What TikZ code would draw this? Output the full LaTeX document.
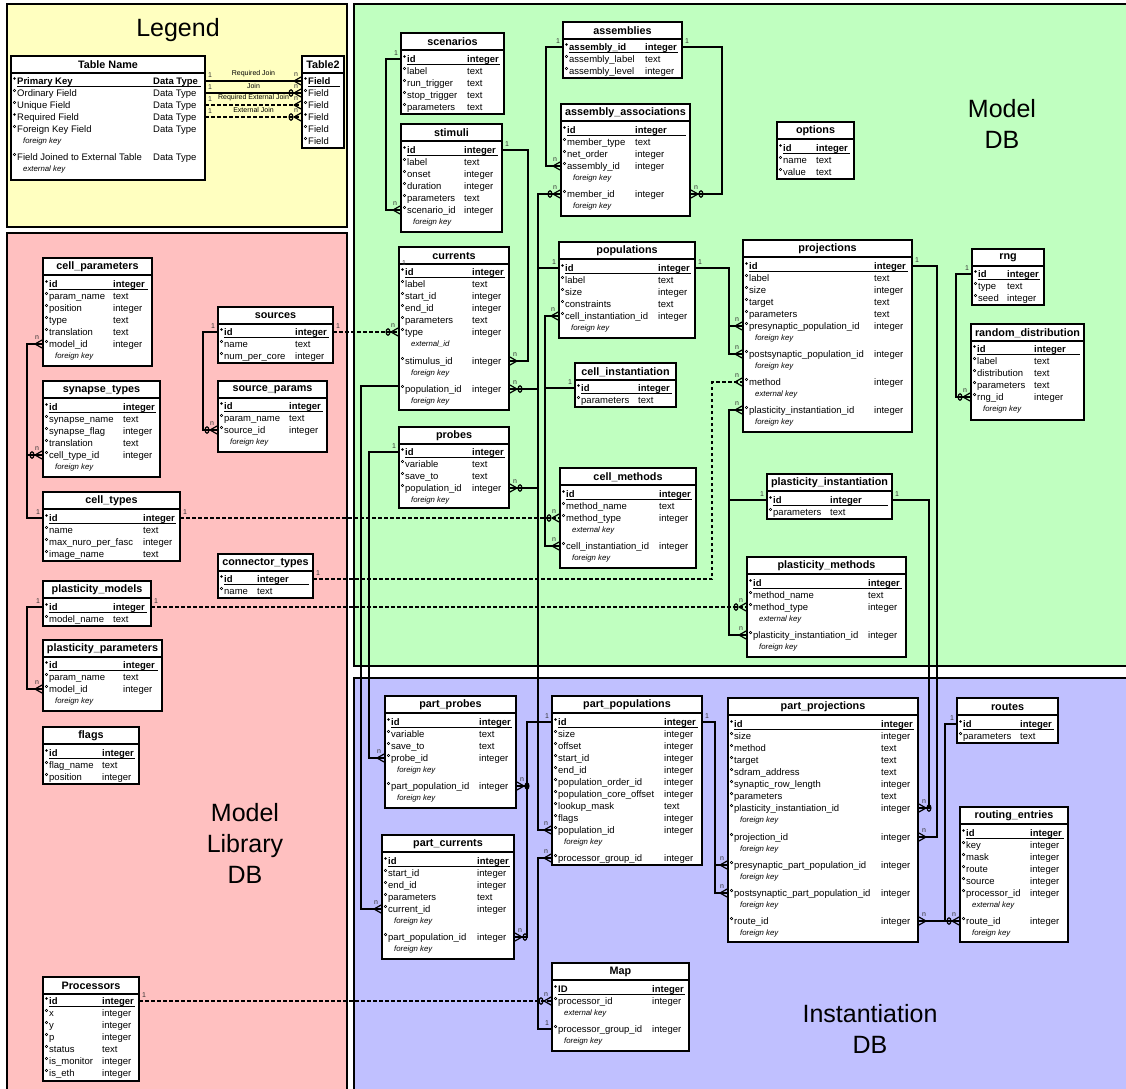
\documentclass[tikz,border=0pt]{standalone}
\usepackage{fontspec}
\setmainfont{Liberation Sans}
\usetikzlibrary{calc}
\definecolor{legY}{RGB}{255,255,192}
\definecolor{libP}{RGB}{255,192,192}
\definecolor{mdbG}{RGB}{192,255,192}
\definecolor{insB}{RGB}{192,192,255}
\tikzset{
 tab/.style={draw, fill=white, line width=1.5pt, inner sep=0pt},
 sepl/.style={line width=1.5pt},
 ttl/.style={inner sep=0pt, font=\fontsize{10.8}{12}\selectfont\bfseries},
 fn/.style={anchor=base west, inner sep=0pt, font=\fontsize{9.5}{11}\selectfont},
 fb/.style={anchor=base west, inner sep=0pt, font=\fontsize{9.5}{11}\selectfont\bfseries},
 fi/.style={anchor=base west, inner sep=0pt, font=\fontsize{7.8}{9}\selectfont\itshape},
 ul/.style={line width=0.8pt},
 rel/.style={line width=1.5pt},
 ext/.style={line width=1.5pt, dash pattern=on 3.5pt off 2.5pt},
 crowst/.style={line width=1.2pt},
 card/.style={inner sep=0pt, font=\fontsize{7}{8}\selectfont, text=black!80},
 panel/.style={draw, line width=1.5pt},
 ptitle/.style={align=center, inner sep=0pt, font=\fontsize{25}{31}\selectfont},
 jlab/.style={inner sep=0pt, font=\fontsize{7}{8}\selectfont},
}
% table: name, x, y, w, h, type column x, title
\newcommand\dbT[7]{%
  \def\dbn{#1}\def\dbx{#2}\def\dbw{#4}\def\dbc{#6}%
  \node[tab, minimum width=#4pt, minimum height=#5pt] (#1) at (#2+#4/2,#3+#5/2) {};%
  \draw[sepl] (#2,#3+17) -- (#2+#4,#3+17);%
  \node[ttl] (#1-title) at (#2+#4/2,#3+9) {#7};%
}
\newcommand\dbPK[4]{%
  \fill (\dbx+3.5,#2-2.5) circle (1.3pt);%
  \node[fb] (\dbn-#1) at (\dbx+6,#2+3.4) {#3};%
  \node[fb] (\dbn-#1t) at (\dbc,#2+3.4) {#4};%
  \draw[ul] (\dbx+6,#2+5.6) -- (\dbx+\dbw-4,#2+5.6);%
  \coordinate (\dbn-#1-l) at (\dbx,#2);%
  \coordinate (\dbn-#1-r) at (\dbx+\dbw,#2);%
}
\newcommand\dbF[4]{%
  \draw[line width=0.6pt] (\dbx+3.5,#2-2.5) circle (1.3pt);%
  \node[fn] (\dbn-#1) at (\dbx+6,#2+3.4) {#3};%
  \node[fn] (\dbn-#1t) at (\dbc,#2+3.4) {#4};%
  \coordinate (\dbn-#1-l) at (\dbx,#2);%
  \coordinate (\dbn-#1-r) at (\dbx+\dbw,#2);%
}
\newcommand\dbR[4]{%
  \fill (\dbx+3.5,#2-2.5) circle (1.3pt);%
  \node[fn] (\dbn-#1) at (\dbx+6,#2+3.4) {#3};%
  \node[fn] (\dbn-#1t) at (\dbc,#2+3.4) {#4};%
  \coordinate (\dbn-#1-l) at (\dbx,#2);%
  \coordinate (\dbn-#1-r) at (\dbx+\dbw,#2);%
}
\newcommand\dbS[3]{\node[fi] (\dbn-#1) at (\dbx+12,#2+3) {#3};}
% connector ends
\newcommand\crL[1]{\draw[crowst] ($(#1)+(-8,0)$) -- ($(#1)+(0,-4.5)$) ($(#1)+(-8,0)$) -- ($(#1)+(0,4.5)$);}
\newcommand\crR[1]{\draw[crowst] ($(#1)+(8,0)$) -- ($(#1)+(0,-4.5)$) ($(#1)+(8,0)$) -- ($(#1)+(0,4.5)$);}
\newcommand\oL[1]{\draw[line width=1.2pt] ($(#1)+(-11,0)$) ellipse (1.9pt and 3.2pt);}
\newcommand\oR[1]{\draw[line width=1.2pt] ($(#1)+(11,0)$) ellipse (1.9pt and 3.2pt);}
\newcommand\nL[1]{\node[card] (#1-n) at ($(#1)+(-6,-6.5)$) {n};}
\newcommand\nR[1]{\node[card] (#1-n) at ($(#1)+(6,-6.5)$) {n};}
\newcommand\iL[1]{\node[card] (#1-1) at ($(#1)+(-5,-6)$) {1};}
\newcommand\iR[1]{\node[card] (#1-1) at ($(#1)+(5,-6)$) {1};}
\begin{document}
\begin{tikzpicture}[x=1pt,y=-1pt]
\useasboundingbox (0,0) rectangle (1126,1088);
% panels
\draw[panel, fill=legY] (7,4) rectangle (347,227);
\draw[panel, fill=libP] (7,233) rectangle (347,1096);
\draw[panel, fill=mdbG] (354,4) rectangle (1134,666);
\draw[panel, fill=insB] (354,678) rectangle (1134,1096);
\node[ptitle] (legT) at (178,30) {Legend};
\node[ptitle] (mdbT) at (1002,124) {Model\\DB};
\node[ptitle] (libT) at (245,843) {Model\\Library\\DB};
\node[ptitle] (insT) at (870,1029) {Instantiation\\DB};
% bus x positions
\coordinate (bL) at (27,0);
\coordinate (bSrc) at (203,0);
\coordinate (bCnt) at (712,0);
\coordinate (bSc) at (386,0);
\coordinate (bSti) at (528,0);
\coordinate (bPop) at (538,0);
\coordinate (bCI) at (545,0);
\coordinate (bAL) at (546,0);
\coordinate (bAR) at (722,0);
\coordinate (bPR) at (729,0);
\coordinate (bRng) at (956,0);
\coordinate (bPrj) at (937,0);
\coordinate (bPI) at (929,0);
\coordinate (bPrb) at (369,0);
\coordinate (bCur) at (361,0);
\coordinate (bPP) at (527,0);
\coordinate (bPPR) at (715,0);
\coordinate (bRt) at (945,0);
% ---------------- Legend
\dbT{leg}{11}{56}{194}{124}{153}{Table Name}
\dbPK{pk}{81}{Primary Key}{Data Type}
\dbF{of}{93}{Ordinary Field}{Data Type}
\dbF{uf}{105}{Unique Field}{Data Type}
\dbR{rf}{117}{Required Field}{Data Type}
\dbF{fk}{129}{Foreign Key Field}{Data Type}
\dbS{s1}{140}{foreign key}
\dbF{ej}{157}{Field Joined to External Table}{Data Type}
\dbS{s2}{168}{external key}
\dbT{t2}{302}{56}{42}{92}{344}{Table2}
\dbPK{f1}{81}{Field}{}
\dbF{f2}{93}{Field}{}
\dbF{f3}{105}{Field}{}
\dbR{f4}{117}{Field}{}
\dbF{f5}{129}{Field}{}
\dbF{f6}{141}{Field}{}
% ---------------- Model Library DB
\dbT{cp}{43}{258}{109}{108}{113}{cell\_parameters}
\dbPK{id}{284}{id}{integer}
\dbF{pn}{296}{param\_name}{text}
\dbF{pos}{308}{position}{integer}
\dbF{ty}{320}{type}{text}
\dbF{tr}{332}{translation}{text}
\dbF{mod}{344}{model\_id}{integer}
\dbS{s1}{355}{foreign key}
\dbT{st}{43}{381}{117}{96}{123}{synapse\_types}
\dbPK{id}{407}{id}{integer}
\dbF{sn}{419}{synapse\_name}{text}
\dbF{sf}{431}{synapse\_flag}{integer}
\dbF{tr}{443}{translation}{text}
\dbF{ct}{455}{cell\_type\_id}{integer}
\dbS{s1}{466}{foreign key}
\dbT{ct}{43}{492}{137}{69}{143}{cell\_types}
\dbPK{id}{518}{id}{integer}
\dbF{nm}{530}{name}{text}
\dbF{mx}{542}{max\_nuro\_per\_fasc}{integer}
\dbF{im}{554}{image\_name}{text}
\dbT{pm}{43}{581}{108}{45}{113}{plasticity\_models}
\dbPK{id}{607}{id}{integer}
\dbF{mn}{619}{model\_name}{text}
\dbT{pp}{43}{640}{119}{71}{123}{plasticity\_parameters}
\dbPK{id}{665}{id}{integer}
\dbF{pn}{677}{param\_name}{text}
\dbF{mod}{689}{model\_id}{integer}
\dbS{s1}{700}{foreign key}
\dbT{fl}{43}{727}{96}{57}{102}{flags}
\dbPK{id}{753}{id}{integer}
\dbF{fn}{765}{flag\_name}{text}
\dbF{po}{777}{position}{integer}
\dbT{src}{218}{307}{115}{56}{295}{sources}
\dbPK{id}{332}{id}{integer}
\dbF{nm}{344}{name}{text}
\dbF{np}{356}{num\_per\_core}{integer}
\dbT{sp}{218}{381}{109}{71}{289}{source\_params}
\dbPK{id}{406}{id}{integer}
\dbF{pn}{418}{param\_name}{text}
\dbF{sid}{430}{source\_id}{integer}
\dbS{s1}{441}{foreign key}
\dbT{cnt}{218}{554}{95}{44}{257}{connector\_types}
\dbPK{id}{579}{id}{integer}
\dbF{nm}{591}{name}{text}
\dbT{proc}{43}{977}{96}{104}{102}{Processors}
\dbPK{id}{1001}{id}{integer}
\dbF{x}{1013}{x}{integer}
\dbF{y}{1025}{y}{integer}
\dbF{p}{1037}{p}{integer}
\dbF{stt}{1049}{status}{text}
\dbF{mon}{1061}{is\_monitor}{integer}
\dbF{eth}{1073}{is\_eth}{integer}
% ---------------- Model DB
\dbT{sc}{401}{33}{103}{81}{467}{scenarios}
\dbPK{id}{59}{id}{integer}
\dbF{lb}{71}{label}{text}
\dbF{rt}{83}{run\_trigger}{text}
\dbF{stp}{95}{stop\_trigger}{text}
\dbF{par}{107}{parameters}{text}
\dbT{sti}{401}{124}{101}{108}{464}{stimuli}
\dbPK{id}{150}{id}{integer}
\dbF{lb}{162}{label}{text}
\dbF{on}{174}{onset}{integer}
\dbF{du}{186}{duration}{integer}
\dbF{par}{198}{parameters}{text}
\dbF{scen}{210}{scenario\_id}{integer}
\dbS{s1}{221}{foreign key}
\dbT{cur}{399}{247}{110}{163}{472}{currents}
\dbPK{id}{272}{id}{integer}
\dbF{lb}{284}{label}{text}
\dbF{sid}{296}{start\_id}{integer}
\dbF{eid}{308}{end\_id}{integer}
\dbF{par}{320}{parameters}{text}
\dbF{type}{332}{type}{integer}
\dbS{s1}{343}{external\_id}
\dbF{stim}{361}{stimulus\_id}{integer}
\dbS{s2}{372}{foreign key}
\dbF{pop}{389}{population\_id}{integer}
\dbS{s3}{400}{foreign key}
\dbT{prb}{399}{427}{110}{81}{472}{probes}
\dbPK{id}{452}{id}{integer}
\dbF{var}{464}{variable}{text}
\dbF{sav}{476}{save\_to}{text}
\dbF{pop}{488}{population\_id}{integer}
\dbS{s1}{499}{foreign key}
\dbT{asm}{563}{22}{119}{56}{645}{assemblies}
\dbPK{id}{47}{assembly\_id}{integer}
\dbF{lb}{59}{assembly\_label}{text}
\dbF{lv}{71}{assembly\_level}{integer}
\dbT{asa}{561}{104}{129}{112}{635}{assembly\_associations}
\dbPK{id}{130}{id}{integer}
\dbF{mt}{142}{member\_type}{text}
\dbF{no}{154}{net\_order}{integer}
\dbF{aid}{166}{assembly\_id}{integer}
\dbS{s1}{177}{foreign key}
\dbF{mem}{194}{member\_id}{integer}
\dbS{s2}{205}{foreign key}
\dbT{opt}{777}{122}{77}{57}{816}{options}
\dbPK{id}{148}{id}{integer}
\dbF{nm}{160}{name}{text}
\dbF{val}{172}{value}{text}
\dbT{pop}{559}{242}{136}{96}{658}{populations}
\dbPK{id}{268}{id}{integer}
\dbF{lb}{280}{label}{text}
\dbF{sz}{292}{size}{integer}
\dbF{con}{304}{constraints}{text}
\dbF{ci}{316}{cell\_instantiation\_id}{integer}
\dbS{s1}{327}{foreign key}
\dbT{ci}{575}{363}{101}{44}{638}{cell\_instantiation}
\dbPK{id}{388}{id}{integer}
\dbF{par}{400}{parameters}{text}
\dbT{prj}{743}{240}{169}{192}{874}{projections}
\dbPK{id}{266}{id}{integer}
\dbF{lb}{278}{label}{text}
\dbF{sz}{290}{size}{integer}
\dbF{tg}{302}{target}{text}
\dbF{par}{314}{parameters}{text}
\dbF{pre}{326}{presynaptic\_population\_id}{integer}
\dbS{s1}{337}{foreign key}
\dbF{post}{354}{postsynaptic\_population\_id}{integer}
\dbS{s2}{365}{foreign key}
\dbF{meth}{382}{method}{integer}
\dbS{s3}{393}{external key}
\dbF{pi}{410}{plasticity\_instantiation\_id}{integer}
\dbS{s4}{421}{foreign key}
\dbT{rng}{972}{249}{72}{56}{1007}{rng}
\dbPK{id}{274}{id}{integer}
\dbF{ty}{286}{type}{text}
\dbF{sd}{298}{seed}{integer}
\dbT{rd}{971}{324}{113}{96}{1034}{random\_distribution}
\dbPK{id}{349}{id}{integer}
\dbF{lb}{361}{label}{text}
\dbF{dis}{373}{distribution}{text}
\dbF{par}{385}{parameters}{text}
\dbF{rng}{397}{rng\_id}{integer}
\dbS{s1}{408}{foreign key}
\dbT{cm}{560}{468}{136}{100}{659}{cell\_methods}
\dbPK{id}{494}{id}{integer}
\dbF{mn}{506}{method\_name}{text}
\dbF{mt}{518}{method\_type}{integer}
\dbS{s1}{529}{external key}
\dbF{ci}{546}{cell\_instantiation\_id}{integer}
\dbS{s2}{557}{foreign key}
\dbT{pi}{767}{474}{125}{45}{830}{plasticity\_instantiation}
\dbPK{id}{500}{id}{integer}
\dbF{par}{512}{parameters}{text}
\dbT{plm}{747}{557}{159}{100}{868}{plasticity\_methods}
\dbPK{id}{583}{id}{integer}
\dbF{mn}{595}{method\_name}{text}
\dbF{mt}{607}{method\_type}{integer}
\dbS{s1}{618}{external key}
\dbF{pi}{635}{plasticity\_instantiation\_id}{integer}
\dbS{s2}{646}{foreign key}
% ---------------- Instantiation DB
\dbT{pprb}{385}{696}{131}{112}{479}{part\_probes}
\dbPK{id}{722}{id}{integer}
\dbF{var}{734}{variable}{text}
\dbF{sav}{746}{save\_to}{text}
\dbF{prb}{758}{probe\_id}{integer}
\dbS{s1}{769}{foreign key}
\dbF{pp}{786}{part\_population\_id}{integer}
\dbS{s2}{797}{foreign key}
\dbT{pcur}{382}{835}{132}{124}{477}{part\_currents}
\dbPK{id}{861}{id}{integer}
\dbF{sid}{873}{start\_id}{integer}
\dbF{eid}{885}{end\_id}{integer}
\dbF{par}{897}{parameters}{text}
\dbF{cur}{909}{current\_id}{integer}
\dbS{s1}{920}{foreign key}
\dbF{pp}{937}{part\_population\_id}{integer}
\dbS{s2}{948}{foreign key}
\dbT{ppop}{552}{696}{150}{169}{664}{part\_populations}
\dbPK{id}{722}{id}{integer}
\dbF{sz}{734}{size}{integer}
\dbF{off}{746}{offset}{integer}
\dbF{sid}{758}{start\_id}{integer}
\dbF{eid}{770}{end\_id}{integer}
\dbF{po}{782}{population\_order\_id}{integer}
\dbF{pc}{794}{population\_core\_offset}{integer}
\dbF{lm}{806}{lookup\_mask}{text}
\dbF{fl}{818}{flags}{integer}
\dbF{pop}{830}{population\_id}{integer}
\dbS{s1}{841}{foreign key}
\dbF{pg}{858}{processor\_group\_id}{integer}
\dbT{ppj}{728}{698}{190}{244}{881}{part\_projections}
\dbPK{id}{724}{id}{integer}
\dbF{sz}{736}{size}{integer}
\dbF{meth}{748}{method}{text}
\dbF{tg}{760}{target}{text}
\dbF{sd}{772}{sdram\_address}{text}
\dbF{srl}{784}{synaptic\_row\_length}{integer}
\dbF{par}{796}{parameters}{text}
\dbF{pi}{808}{plasticity\_instantiation\_id}{integer}
\dbS{s1}{819}{foreign key}
\dbF{prj}{837}{projection\_id}{integer}
\dbS{s2}{848}{foreign key}
\dbF{pre}{865}{presynaptic\_part\_population\_id}{integer}
\dbS{s3}{876}{foreign key}
\dbF{post}{893}{postsynaptic\_part\_population\_id}{integer}
\dbS{s4}{904}{foreign key}
\dbF{rt}{921}{route\_id}{integer}
\dbS{s5}{932}{foreign key}
\dbT{rt}{957}{698}{101}{45}{1020}{routes}
\dbPK{id}{724}{id}{integer}
\dbF{par}{736}{parameters}{text}
\dbT{re}{960}{807}{108}{135}{1030}{routing\_entries}
\dbPK{id}{833}{id}{integer}
\dbF{key}{845}{key}{integer}
\dbF{msk}{857}{mask}{integer}
\dbF{rte}{869}{route}{integer}
\dbF{src}{881}{source}{integer}
\dbF{pid}{893}{processor\_id}{integer}
\dbS{s1}{904}{external key}
\dbF{rt}{921}{route\_id}{integer}
\dbS{s2}{932}{foreign key}
\dbT{map}{552}{963}{137}{88}{652}{Map}
\dbPK{id}{989}{ID}{integer}
\dbF{proc}{1001}{processor\_id}{integer}
\dbS{s1}{1012}{external key}
\dbF{pg}{1029}{processor\_group\_id}{integer}
\dbS{s2}{1040}{foreign key}
% ================= connectors
% legend
\draw[rel] (leg-pk-r) -- (t2-f1-l);
\draw[rel] (leg-of-r) -- (t2-f2-l);
\draw[ext] (leg-uf-r) -- (t2-f3-l);
\draw[ext] (leg-rf-r) -- (t2-f4-l);
\crL{t2-f1-l}\crL{t2-f2-l}\oL{t2-f2-l}\crL{t2-f3-l}\crL{t2-f4-l}\oL{t2-f4-l}
\iR{leg-pk-r}\iR{leg-of-r}\iR{leg-uf-r}\iR{leg-rf-r}
\nL{t2-f1-l}\nL{t2-f2-l}\nL{t2-f3-l}\nL{t2-f4-l}
\node[jlab] (j1) at ($(leg-pk-r)!0.5!(t2-f1-l)+(0,-7)$) {Required Join};
\node[jlab] (j2) at ($(leg-of-r)!0.5!(t2-f2-l)+(0,-7)$) {Join};
\node[jlab] (j3) at ($(leg-uf-r)!0.5!(t2-f3-l)+(0,-7)$) {Required External Join};
\node[jlab] (j4) at ($(leg-rf-r)!0.5!(t2-f4-l)+(0,-7)$) {External Join};
% model library
\draw[rel] (ct-id-l) -- (ct-id-l -| bL) -- (cp-mod-l -| bL) -- (cp-mod-l);
\draw[rel] (st-ct-l) -- (st-ct-l -| bL);
\crL{cp-mod-l}\nL{cp-mod-l}\crL{st-ct-l}\oL{st-ct-l}\nL{st-ct-l}\iL{ct-id-l}
\draw[rel] (pm-id-l) -- (pm-id-l -| bL) -- (pp-mod-l -| bL) -- (pp-mod-l);
\crL{pp-mod-l}\nL{pp-mod-l}\iL{pm-id-l}
\draw[rel] (src-id-l) -- (src-id-l -| bSrc) -- (sp-sid-l -| bSrc) -- (sp-sid-l);
\crL{sp-sid-l}\oL{sp-sid-l}\nL{sp-sid-l}\iL{src-id-l}
\draw[ext] (src-id-r) -- (cur-type-l);
\crL{cur-type-l}\oL{cur-type-l}\nL{cur-type-l}\iR{src-id-r}
\draw[ext] (ct-id-r) -- (cm-mt-l);
\crL{cm-mt-l}\oL{cm-mt-l}\nL{cm-mt-l}\iR{ct-id-r}
\draw[ext] (cnt-id-r) -- (cnt-id-r -| bCnt) -- (prj-meth-l -| bCnt) -- (prj-meth-l);
\crL{prj-meth-l}\nL{prj-meth-l}\iR{cnt-id-r}
\draw[ext] (pm-id-r) -- (plm-mt-l);
\crL{plm-mt-l}\oL{plm-mt-l}\nL{plm-mt-l}\iR{pm-id-r}
\draw[ext] (proc-id-r) -- (map-proc-l);
\crL{map-proc-l}\oL{map-proc-l}\nL{map-proc-l}\iR{proc-id-r}
% model db
\draw[rel] (sc-id-l) -- (sc-id-l -| bSc) -- (sti-scen-l -| bSc) -- (sti-scen-l);
\crL{sti-scen-l}\nL{sti-scen-l}\iL{sc-id-l}
\draw[rel] (sti-id-r) -- (sti-id-r -| bSti) -- (cur-stim-r -| bSti) -- (cur-stim-r);
\crR{cur-stim-r}\nR{cur-stim-r}\iR{sti-id-r}
\draw[rel] (asa-mem-l) -- (asa-mem-l -| bPop) -- (ppop-pop-l -| bPop) -- (ppop-pop-l);
\draw[rel] (pop-id-l) -- (pop-id-l -| bPop);
\draw[rel] (cur-pop-r) -- (cur-pop-r -| bPop);
\draw[rel] (prb-pop-r) -- (prb-pop-r -| bPop);
\crL{asa-mem-l}\oL{asa-mem-l}\nL{asa-mem-l}
\crR{cur-pop-r}\oR{cur-pop-r}\nR{cur-pop-r}
\crR{prb-pop-r}\oR{prb-pop-r}\nR{prb-pop-r}
\crL{ppop-pop-l}\nL{ppop-pop-l}\iL{pop-id-l}
\draw[rel] (pop-ci-l) -- (pop-ci-l -| bCI) -- (cm-ci-l -| bCI) -- (cm-ci-l);
\draw[rel] (ci-id-l) -- (ci-id-l -| bCI);
\crL{pop-ci-l}\nL{pop-ci-l}\crL{cm-ci-l}\nL{cm-ci-l}\iL{ci-id-l}
\draw[rel] (asm-id-l) -- (asm-id-l -| bAL) -- (asa-aid-l -| bAL) -- (asa-aid-l);
\crL{asa-aid-l}\nL{asa-aid-l}\iL{asm-id-l}
\draw[rel] (asm-id-r) -- (asm-id-r -| bAR) -- (asa-mem-r -| bAR) -- (asa-mem-r);
\crR{asa-mem-r}\oR{asa-mem-r}\nR{asa-mem-r}\iR{asm-id-r}
\draw[rel] (pop-id-r) -- (pop-id-r -| bPR) -- (prj-post-l -| bPR) -- (prj-post-l);
\draw[rel] (prj-pre-l) -- (prj-pre-l -| bPR);
\crL{prj-pre-l}\nL{prj-pre-l}\crL{prj-post-l}\nL{prj-post-l}\iR{pop-id-r}
\draw[rel] (prj-pi-l) -- (prj-pi-l -| bPR) -- (plm-pi-l -| bPR) -- (plm-pi-l);
\draw[rel] (pi-id-l) -- (pi-id-l -| bPR);
\crL{prj-pi-l}\nL{prj-pi-l}\crL{plm-pi-l}\nL{plm-pi-l}\iL{pi-id-l}
\draw[rel] (rng-id-l) -- (rng-id-l -| bRng) -- (rd-rng-l -| bRng) -- (rd-rng-l);
\crL{rd-rng-l}\oL{rd-rng-l}\nL{rd-rng-l}\iL{rng-id-l}
\draw[rel] (prj-id-r) -- (prj-id-r -| bPrj) -- (ppj-prj-r -| bPrj) -- (ppj-prj-r);
\crR{ppj-prj-r}\nR{ppj-prj-r}\iR{prj-id-r}
\draw[rel] (pi-id-r) -- (pi-id-r -| bPI) -- (ppj-pi-r -| bPI) -- (ppj-pi-r);
\crR{ppj-pi-r}\oR{ppj-pi-r}\nR{ppj-pi-r}\iR{pi-id-r}
% instantiation db
\draw[rel] (prb-id-l) -- (prb-id-l -| bPrb) -- (pprb-prb-l -| bPrb) -- (pprb-prb-l);
\crL{pprb-prb-l}\nL{pprb-prb-l}\iL{prb-id-l}
\coordinate (cur-lk) at ($(cur-pop-l)+(0,-3)$);
\draw[rel] (cur-lk) -- (cur-lk -| bCur) -- (pcur-cur-l -| bCur) -- (pcur-cur-l);
\crL{pcur-cur-l}\nL{pcur-cur-l}
\node[card] (cur-one) at ($(cur-id-l)+(5,-9)$) {1};
\draw[rel] (ppop-id-l) -- (ppop-id-l -| bPP) -- (pcur-pp-r -| bPP) -- (pcur-pp-r);
\draw[rel] (pprb-pp-r) -- (pprb-pp-r -| bPP);
\crR{pprb-pp-r}\oR{pprb-pp-r}\nR{pprb-pp-r}\crR{pcur-pp-r}\oR{pcur-pp-r}\nR{pcur-pp-r}\iL{ppop-id-l}
\draw[rel] (ppop-pg-l) -- (ppop-pg-l -| bPop) -- (map-pg-l -| bPop) -- (map-pg-l);
\crL{ppop-pg-l}\nL{ppop-pg-l}\iL{map-pg-l}
\draw[rel] (ppop-id-r) -- (ppop-id-r -| bPPR) -- (ppj-post-l -| bPPR) -- (ppj-post-l);
\draw[rel] (ppj-pre-l) -- (ppj-pre-l -| bPPR);
\crL{ppj-pre-l}\nL{ppj-pre-l}\crL{ppj-post-l}\nL{ppj-post-l}\iR{ppop-id-r}
\draw[rel] (rt-id-l) -- (rt-id-l -| bRt) -- (re-rt-l -| bRt);
\draw[rel] (ppj-rt-r) -- (re-rt-l);
\crR{ppj-rt-r}\nR{ppj-rt-r}\crL{re-rt-l}\oL{re-rt-l}\nL{re-rt-l}\iL{rt-id-l}
\end{tikzpicture}
\end{document}
